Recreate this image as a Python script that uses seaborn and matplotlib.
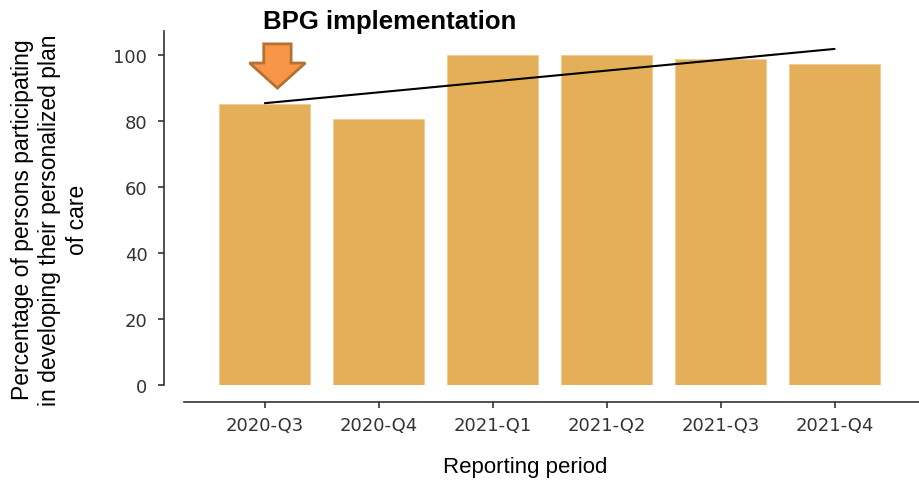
import numpy as np
import pandas as pd
import seaborn as sns
import matplotlib.pyplot as plt
from matplotlib.patches import FancyArrow

periods = ["2020-Q3", "2020-Q4", "2021-Q1", "2021-Q2", "2021-Q3", "2021-Q4"]
percent = [85.2, 80.6, 100.0, 100.0, 98.8, 97.3]

bar_color = "#E4AF58"

sns.set_style("ticks")
plt.rcParams['font.family'] = ['DejaVu Sans']

df = pd.DataFrame({"period": periods, "percent": percent})

fig = plt.figure(figsize=(9.2, 4.85), dpi=100)
ax = fig.add_axes([0.2, 0.204, 0.8, 0.730])

sns.barplot(data=df, x="period", y="percent", color=bar_color, saturation=1,
            width=0.8, edgecolor="#F0CC90", linewidth=0.6, ax=ax)

# linear trend across the periods
xs = np.arange(len(percent))
slope, icpt = np.polyfit(xs, percent, 1)
ax.plot(xs, slope * xs + icpt, color="black", lw=1.5)

# BPG implementation marker above the first bar
ax.add_patch(FancyArrow(0.11, percent[0] + 18.2, 0, -13.4, width=0.24,
                        head_width=0.49, head_length=7.6, length_includes_head=True,
                        facecolor="#F79646", edgecolor="#B5712F", lw=2))
fig.text(390 / 920, 1 - 22 / 485, "BPG implementation", ha="center", va="center",
         fontsize=18.5, fontweight="bold", fontfamily="Liberation Sans", color="black")

ax.set_xlim(-0.71, 5.75)
ax.set_ylim(0, 107.3)
ax.set_yticks(np.arange(0, 101, 20))
ax.tick_params(axis="both", colors="#333333", labelsize=13, length=4, width=1.2)
ax.tick_params(axis="x", pad=6)
ax.tick_params(axis="y", pad=8)
for lab in ax.get_xticklabels() + ax.get_yticklabels():
    lab.set_color("#333333")

sns.despine(ax=ax)
ax.spines["left"].set_position(("outward", 14.4))
ax.spines["bottom"].set_position(("outward", 12))
for s in ["left", "bottom"]:
    ax.spines[s].set_color("#333333")
    ax.spines[s].set_linewidth(1.2)

ax.set_xlabel("")
ax.set_ylabel("")
fig.text(525 / 920, 1 - 468 / 485, "Reporting period", ha="center", va="center",
         fontsize=16, fontfamily="Liberation Sans", color="black")
fig.text(50 / 920, 1 - 220 / 485,
         "Percentage of persons participating\nin developing their personalized plan\nof care",
         ha="center", va="center", rotation=90, fontsize=16.5, linespacing=1.25,
         multialignment="center", fontfamily="Liberation Sans", color="black")

fig.savefig("out.png", dpi=100)
